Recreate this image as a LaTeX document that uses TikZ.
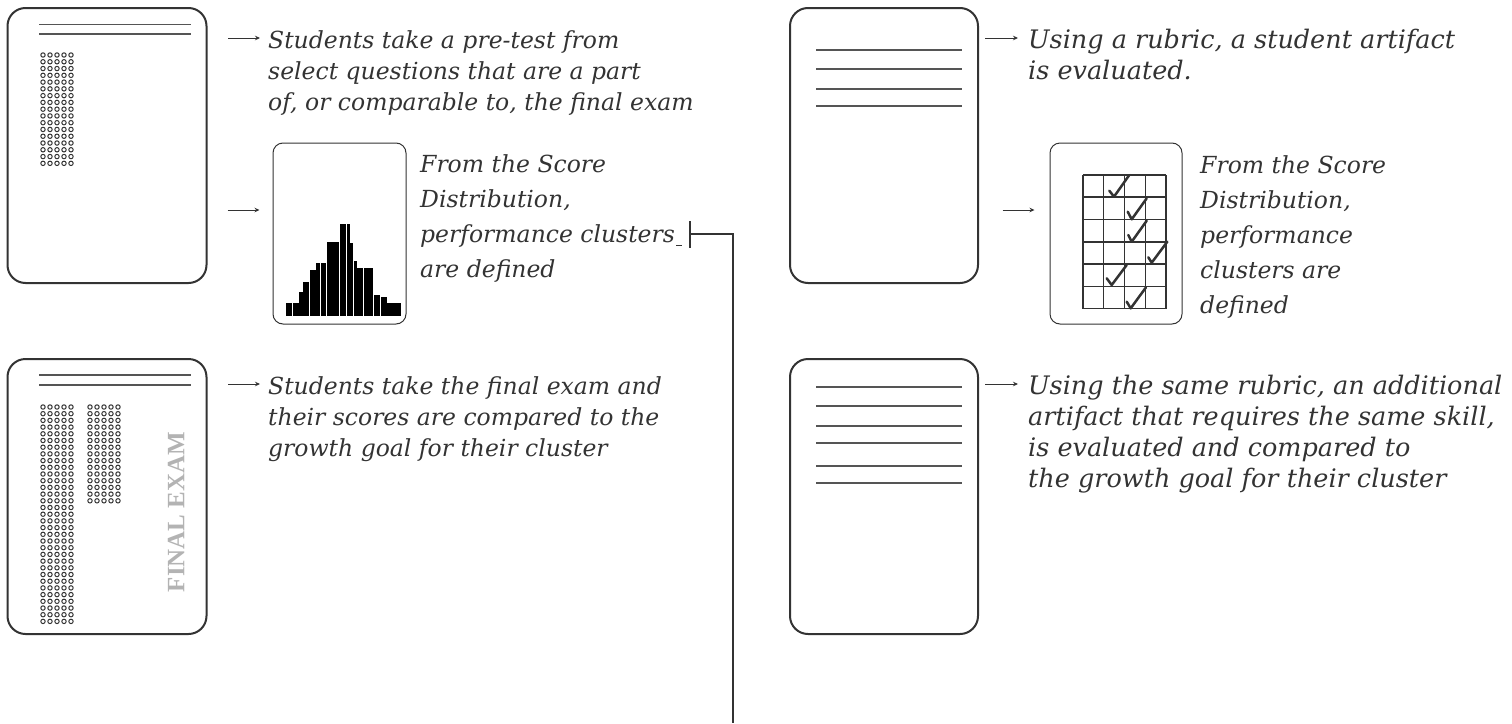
\documentclass[tikz,border=0pt]{standalone}
\usepackage{fontspec}
\setmainfont{DejaVu Serif}
\newfontfamily\examfont{Liberation Serif}
\usetikzlibrary{arrows.meta}

\definecolor{ink}{HTML}{333333}
\definecolor{rulegray}{HTML}{555555}
\definecolor{examgray}{HTML}{B3B3B3}

\begin{document}
\begin{tikzpicture}[x=1pt, y=-1pt,
        doc/.style={draw=ink, line width=2pt, rounded corners=18pt,
                    minimum width=199pt, minimum height=275pt, inner sep=0pt},
        card/.style={draw=ink, line width=1pt, rounded corners=10pt,
                     minimum width=133pt, minimum height=181pt, inner sep=0pt},
        note/.style={anchor=base west, align=left, inner sep=0pt, text=ink,
                     font=\itshape\fontsize{23.5}{31}\selectfont},
        wide/.style={note, font=\itshape\fontsize{25.5}{31}\selectfont},
        tall/.style={note, font=\itshape\fontsize{23.5}{35}\selectfont},
        arr/.style={draw=ink, line width=1pt, -{Stealth[length=5pt,width=4.5pt]}},
        brk/.style={draw=ink, line width=2pt, {Bar[width=27pt]}-},
        rl/.style={draw=rulegray, line width=1.2pt},
        bubble/.style={draw=ink, line width=1pt},
        tick/.style={draw=ink, line width=2.5pt, line cap=round, line join=round}]

    \useasboundingbox (0,0) rectangle (1512,723);

    % left column: pre-test and final exam
    \node[doc]  (pre)  at (107,145.5) {};
    \node[doc]  (fin)  at (107,496.5) {};
    \node[card] (hist) at (339.5,233.5) {};

    \draw[rl] (39,24.5) -- (191,24.5);
    \draw[rl] (39,34) -- (191,34);
    \foreach \i in {0,...,4}
        \foreach \j in {0,...,16}
            \draw[bubble] (43+7*\i,55+6.77*\j) circle[radius=2.2pt];

    \draw[rl] (39,375) -- (191,375);
    \draw[rl] (39,385) -- (191,385);
    \foreach \i in {0,...,4} {
        \foreach \j in {0,...,32}
            \draw[bubble] (43+7*\i,407+6.7*\j) circle[radius=2.2pt];
        \foreach \j in {0,...,14}
            \draw[bubble] (90+7*\i,407+6.7*\j) circle[radius=2.2pt];
    }
    \node[rotate=90, text=examgray, font=\examfont\bfseries\fontsize{25}{25}\selectfont]
        (exam) at (176,512) {FINAL EXAM};

    % score distribution
    \foreach \xa/\xb/\yt in {286/292/303, 292.7/298.7/303, 298.7/302.7/292,
            302.7/309.3/282, 310/316/270, 316/320/263, 320.7/326/263,
            326.7/336/242, 336/339.3/242, 340/346/224, 346.7/350/224,
            350/353.3/243, 354/357.3/261, 357.3/363.3/268, 364/370/268,
            370/373.3/268, 374/380/295, 380.7/386.7/297, 387.3/396.7/303,
            397.3/401/303}
        \fill[black] (\xa,316) rectangle (\xb,\yt);

    \node[note] (t1) at (268,110) {Students take a pre-test from\\
        select questions that are a part\\of, or comparable to, the final exam};
    \node[tall] (t2) at (420,277) {From the Score\\Distribution,\\
        performance clusters\\are defined};
    \node[note] (t3) at (268,456) {Students take the final exam and\\
        their scores are compared to the\\growth goal for their cluster};

    \coordinate (a1) at (260,38);
    \coordinate (a3) at (260,384);
    \draw[arr] ([xshift=-32pt]a1) -- (a1);
    \draw[arr] ([shift={(-45,-23.5)}]hist.west) -- ([shift={(-13,-23.5)}]hist.west);
    \draw[arr] ([xshift=-32pt]a3) -- (a3);

    \coordinate (cl) at (689,234);
    \coordinate (clend) at (733,723);
    \draw[ink, line width=1pt] (676,245) -- (682,245);
    \draw[brk] (cl) -| (clend);

    % right column: rubric artifacts
    \node[doc, minimum width=188pt] (art)  at (884,145.5) {};
    \node[doc, minimum width=188pt] (art2) at (884,496.5) {};
    \node[card, minimum width=132pt] (chk) at (1116,233.5) {};

    \foreach \y in {50,69,89,106}
        \draw[rl] (816,\y) -- (962,\y);
    \foreach \y in {387,406,426,443,466,483}
        \draw[rl] (816,\y) -- (962,\y);

    \foreach \x in {1083,1103.5,1124.5,1145.5,1166}
        \draw[ink, line width=1.1pt] (\x,175) -- (\x,308.5);
    \foreach \y in {175,197,219.5,242,264,286.5,308.5}
        \draw[ink, line width=1.1pt] (1083,\y) -- (1166,\y);
    \foreach \ax/\ay/\bx/\by/\cx/\cy in {
            1109.3/190.7/1114/196.7/1129.3/175,
            1127.7/211.7/1131.7/219.3/1146.7/198.3,
            1128.3/235/1131.7/241.7/1146.7/220.7,
            1148.3/257.3/1151.7/262.7/1167.3/241.7,
            1106.7/278.3/1111.7/285/1126.7/265,
            1126.7/301.7/1130.7/308.3/1146/287.3}
        \draw[tick] (\ax,\ay) -- (\bx,\by) -- (\cx,\cy);

    \node[wide] (t4) at (1028,79) {Using a rubric, a student artifact\\is evaluated.};
    \node[tall] (t5) at (1200,313) {From the Score\\Distribution,\\performance\\
        clusters are\\defined};
    \node[wide] (t6) at (1028,487) {Using the same rubric, an additional\\
        artifact that requires the same skill,\\is evaluated and compared to\\
        the growth goal for their cluster};

    \coordinate (a4) at (1018,38);
    \coordinate (a6) at (1018,384);
    \draw[arr] ([xshift=-33pt]a4) -- (a4);
    \draw[arr] ([shift={(-47,-23.5)}]chk.west) -- ([shift={(-15,-23.5)}]chk.west);
    \draw[arr] ([xshift=-33pt]a6) -- (a6);

\end{tikzpicture}
\end{document}
